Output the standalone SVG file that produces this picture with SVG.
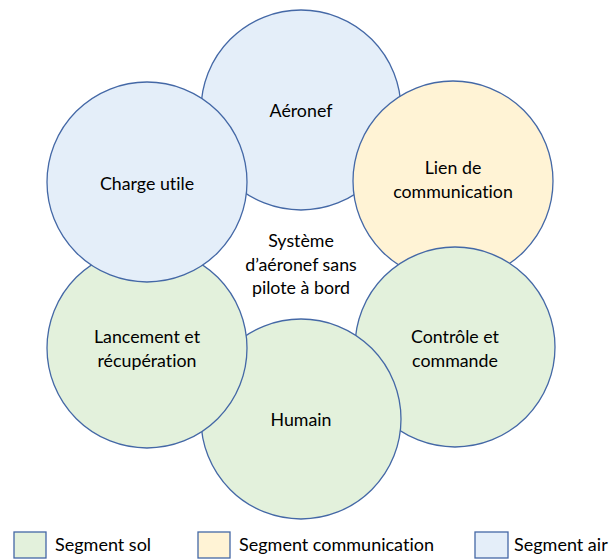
<svg xmlns="http://www.w3.org/2000/svg" width="609" height="559" viewBox="0 0 609 559">
<style>
  .c { stroke: #4468A6; stroke-width: 1.3; }
  .air { fill: #E4EEF9; }
  .com { fill: #FFF3D5; }
  .sol { fill: #E3F1DC; }
  text { font-family: Lato, "Liberation Sans", sans-serif; font-size: 17.8px; fill: #000; text-anchor: middle; font-variant-ligatures: none; }
  .leg { text-anchor: start; font-size: 18px; }
</style>
<rect width="609" height="559" fill="#ffffff"/>
<g id="aeronef">
  <circle class="c air" cx="301" cy="110" r="100"/>
  <text x="301" y="117">Aéronef</text>
</g>
<g id="lien">
  <circle class="c com" cx="453" cy="181" r="100"/>
  <text x="453" y="174">Lien de</text>
  <text x="453" y="197.5">communication</text>
</g>
<g id="controle">
  <circle class="c sol" cx="455" cy="347" r="100"/>
  <text x="455" y="343">Contrôle et</text>
  <text x="455" y="366.5">commande</text>
</g>
<g id="humain">
  <circle class="c sol" cx="301" cy="419" r="100"/>
  <text x="301" y="426">Humain</text>
</g>
<g id="lancement">
  <circle class="c sol" cx="147" cy="348" r="100"/>
  <text x="147" y="343">Lancement et</text>
  <text x="147" y="366.5">récupération</text>
</g>
<g id="charge">
  <circle class="c air" cx="147" cy="182" r="100"/>
  <text x="147" y="190">Charge utile</text>
</g>
<g id="systeme">
  <text x="301" y="247">Système</text>
  <text x="301" y="270.5">d’aéronef sans</text>
  <text x="301" y="294">pilote à bord</text>
</g>
<g id="connectors"></g>
<g id="legende">
  <rect class="c sol" x="14" y="532" width="32" height="26"/>
  <text class="leg" x="55" y="551">Segment sol</text>
  <rect class="c com" x="198" y="532" width="32" height="26"/>
  <text class="leg" x="239" y="551">Segment communication</text>
  <rect class="c air" x="475" y="532" width="33" height="26"/>
  <text class="leg" x="514" y="551">Segment air</text>
</g>
</svg>
